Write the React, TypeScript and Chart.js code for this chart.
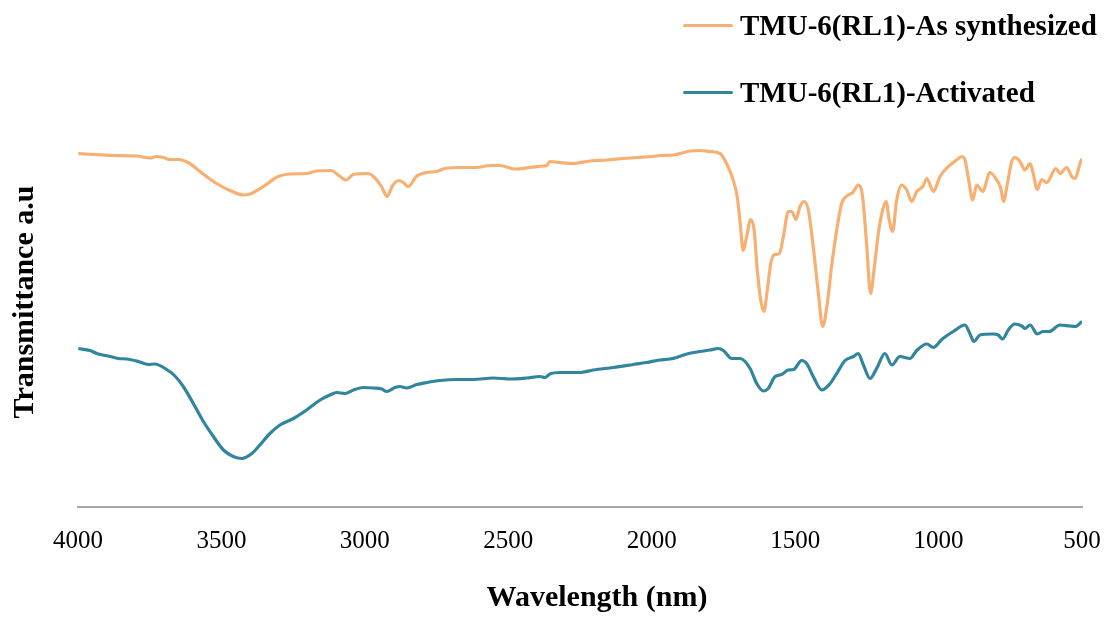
import React, { useEffect, useRef } from "react";
import { Chart, registerables } from "chart.js";

Chart.register(...registerables);

const xTickValues = [4000, 3500, 3000, 2500, 2000, 1500, 1000, 500];
const xTitle = "Wavelength (nm)";
const yTitle = "Transmittance a.u";
const seriesNames = ["TMU-6(RL1)-As synthesized", "TMU-6(RL1)-Activated"];
const seriesColors = ["#F8B072", "#31859C"];

const asSynthWavenumber = [
  3999, 3947, 3877, 3795, 3749, 3726, 3703, 3679, 3650, 3610, 3575, 3517, 3470, 3424, 3400, 3354, 3302, 3261,
  3203, 3168, 3116, 3093, 3066, 3040, 2989, 2968, 2941, 2923, 2904, 2883, 2866, 2849, 2819, 2784, 2750, 2721,
  2668, 2610, 2564, 2529, 2477, 2424, 2378, 2366, 2355, 2320, 2273, 2215, 2157, 2099, 2052, 1995, 1971, 1925,
  1867, 1832, 1797, 1762, 1739, 1716, 1702, 1692, 1681, 1669, 1655, 1643, 1632, 1620, 1609, 1597, 1585, 1574,
  1555, 1541, 1524, 1512, 1497, 1483, 1469, 1454, 1437, 1419, 1404, 1388, 1373, 1355, 1338, 1320, 1299, 1280,
  1265, 1251, 1237, 1225, 1210, 1195, 1183, 1172, 1160, 1146, 1129, 1111, 1094, 1076, 1055, 1041, 1018, 995,
  966, 937, 919, 908, 893, 881, 867, 846, 821, 797, 783, 774, 760, 745, 734, 716, 699, 681, 670, 656, 641, 623,
  591, 577, 553, 536, 524, 507, 500,
];
const asSynthTransmittance = [
  70.7, 70.5, 70.3, 70.2, 69.8, 70.1, 69.9, 69.5, 69.5, 68.7, 67.1, 64.7, 63.3, 62.4, 62.6, 64.1, 66.1, 66.6,
  66.7, 67.2, 67.3, 66.4, 65.4, 66.5, 66.7, 66.0, 64.0, 62.1, 64.2, 65.3, 64.9, 64.1, 66.2, 66.9, 67.1, 67.7,
  67.9, 67.9, 68.3, 68.3, 67.6, 67.9, 68.2, 68.3, 69.1, 68.9, 68.7, 69.2, 69.4, 69.7, 69.9, 70.1, 70.3, 70.4,
  71.2, 71.3, 71.1, 70.7, 68.7, 65.4, 62.1, 57.0, 51.3, 54.1, 57.5, 55.4, 47.4, 41.4, 39.1, 43.4, 48.7, 50.4,
  50.7, 54.1, 59.1, 59.1, 57.5, 60.1, 61.1, 59.4, 52.1, 42.7, 36.1, 40.7, 48.1, 55.4, 60.7, 62.2, 62.9, 64.4,
  62.1, 52.7, 42.7, 47.4, 54.7, 59.4, 61.1, 57.4, 55.1, 61.4, 64.4, 63.4, 61.1, 63.1, 64.1, 65.7, 63.1, 66.1,
  68.1, 69.4, 70.1, 69.4, 64.7, 61.4, 64.4, 63.1, 66.9, 65.4, 63.7, 61.1, 64.7, 69.1, 69.9, 69.1, 67.4, 68.7,
  66.7, 63.5, 65.5, 64.9, 67.7, 66.7, 67.9, 66.1, 65.7, 68.7, 69.7,
];

const activatedWavenumber = [
  3999, 3958, 3935, 3888, 3860, 3830, 3790, 3755, 3732, 3691, 3662, 3633, 3598, 3563, 3528, 3493, 3459, 3429,
  3394, 3366, 3331, 3296, 3249, 3203, 3156, 3122, 3098, 3069, 3040, 3005, 2971, 2941, 2924, 2895, 2878, 2854,
  2819, 2784, 2738, 2680, 2622, 2552, 2494, 2436, 2389, 2372, 2355, 2320, 2273, 2250, 2204, 2134, 2064, 2018,
  1971, 1936, 1913, 1878, 1832, 1797, 1768, 1750, 1721, 1692, 1657, 1634, 1611, 1594, 1570, 1547, 1524, 1506,
  1477, 1460, 1437, 1407, 1378, 1355, 1326, 1297, 1280, 1262, 1239, 1216, 1187, 1163, 1135, 1100, 1076, 1041,
  1018, 989, 949, 908, 891, 877, 856, 809, 792, 777, 757, 734, 710, 699, 681, 656, 635, 614, 577, 542, 524, 500,
];
const activatedTransmittance = [
  31.7, 31.3, 30.7, 30.1, 29.7, 29.6, 29.1, 28.5, 28.6, 27.5, 26.2, 24.1, 20.7, 17.1, 14.1, 11.4, 10.1, 9.7,
  10.7, 12.4, 14.7, 16.4, 17.7, 19.4, 21.4, 22.4, 22.9, 22.7, 23.4, 23.9, 23.8, 23.6, 23.1, 23.9, 24.1, 23.8,
  24.5, 24.9, 25.3, 25.5, 25.5, 25.8, 25.6, 25.8, 26.1, 25.9, 26.6, 26.9, 26.9, 26.9, 27.4, 27.9, 28.5, 28.9,
  29.4, 29.6, 29.9, 30.6, 31.1, 31.4, 31.7, 31.3, 29.7, 29.7, 27.7, 24.7, 23.2, 23.7, 26.1, 26.5, 27.4, 27.5,
  29.3, 28.7, 26.1, 23.4, 24.7, 26.7, 29.3, 30.1, 30.7, 28.4, 25.7, 27.7, 30.7, 28.4, 30.1, 29.7, 31.3, 32.6,
  31.9, 33.5, 35.1, 36.4, 34.7, 33.1, 34.4, 34.6, 34.4, 33.6, 35.4, 36.6, 36.2, 35.7, 36.4, 34.6, 35.1, 35.1,
  36.4, 36.2, 36.1, 37.1,
];

const FONT = '"Liberation Serif", "Times New Roman", serif';

const titlesPlugin = {
  id: "axisTitlesCustom",
  afterDraw(chart: any) {
    const { ctx, chartArea } = chart;
    ctx.save();
    ctx.fillStyle = "#000000";
    ctx.font = `bold 30px ${FONT}`;
    ctx.textAlign = "center";
    ctx.textBaseline = "middle";
    const cx = (chartArea.left + chartArea.right) / 2 + 17;
    ctx.fillText(xTitle, cx, 598);
    ctx.translate(25, 302);
    ctx.rotate(-Math.PI / 2);
    ctx.fillText(yTitle, 0, 0);
    ctx.restore();
  },
};

export default function App() {
  const canvasRef = useRef<HTMLCanvasElement | null>(null);

  useEffect(() => {
    const canvas = canvasRef.current;
    if (!canvas) return;
    const makePoints = (xs: number[], ys: number[]) => xs.map((x, i) => ({ x, y: ys[i] }));
    const chart = new Chart(canvas, {
      type: "line",
      data: {
        datasets: [
          {
            label: seriesNames[0],
            data: makePoints(asSynthWavenumber, asSynthTransmittance),
            borderColor: seriesColors[0],
            backgroundColor: seriesColors[0],
            borderWidth: 3.2,
            pointRadius: 0,
            cubicInterpolationMode: "monotone",
            fill: false,
          },
          {
            label: seriesNames[1],
            data: makePoints(activatedWavenumber, activatedTransmittance),
            borderColor: seriesColors[1],
            backgroundColor: seriesColors[1],
            borderWidth: 3.2,
            pointRadius: 0,
            cubicInterpolationMode: "monotone",
            fill: false,
          },
        ],
      },
      options: {
        responsive: false,
        animation: false,
        layout: { padding: { top: 107, left: 78, right: 22, bottom: 0 } },
        plugins: {
          legend: { display: false },
          tooltip: { enabled: false },
        },
        scales: {
          x: {
            type: "linear",
            reverse: true,
            min: 500,
            max: 4000,
            afterBuildTicks: (scale: any) => {
              scale.ticks = xTickValues.map((v) => ({ value: v }));
            },
            afterFit: (scale: any) => {
              scale.height = 110;
            },
            grid: { display: false, drawTicks: true, tickLength: 19 },
            border: { display: true, color: "#A6A6A6", width: 2 },
            ticks: {
              color: "#000000",
              padding: 0,
              maxRotation: 0,
              autoSkip: false,
              font: { family: FONT, size: 25 },
              callback: (v: any) => String(v),
            },
          },
          y: {
            display: false,
            min: 0,
            max: 80,
          },
        },
      },
      plugins: [titlesPlugin],
    });
    return () => chart.destroy();
  }, []);

  const legendItem = (i: number, top: number) => (
    <div
      key={i}
      style={{
        position: "absolute",
        left: 683,
        top,
        height: 32,
        display: "flex",
        alignItems: "center",
        whiteSpace: "nowrap",
      }}
    >
      <div style={{ width: 50, height: 3, background: seriesColors[i], borderRadius: 2, marginRight: 7 }} />
      <span style={{ fontFamily: FONT, fontWeight: "bold", fontSize: 29, lineHeight: "32px", color: "#000" }}>
        {seriesNames[i]}
      </span>
    </div>
  );

  return (
    <div style={{ position: "absolute", left: 0, top: 0, width: 1104, height: 617, background: "#ffffff" }}>
      <canvas ref={canvasRef} width={1104} height={617} style={{ display: "block" }} />
      {legendItem(0, 9)}
      {legendItem(1, 76)}
    </div>
  );
}
